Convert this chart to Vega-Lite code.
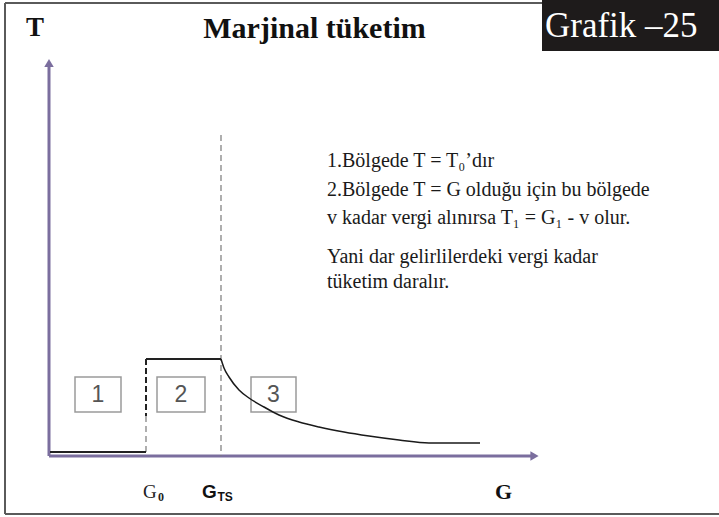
{
  "$schema": "https://vega.github.io/schema/vega-lite/v6.json",
  "width": 719,
  "height": 517,
  "autosize": {"type": "none"},
  "padding": 0,
  "background": "white",
  "config": {"view": {"stroke": null}},
  "datasets": {
    "frame": [
      {"x": -4.4, "y": 45.3, "x2": 67.0, "y2": 45.3},
      {"x": -4.4, "y": 45.3, "x2": -4.4, "y2": -5.8},
      {"x": -4.4, "y": -5.8, "x2": 67.0, "y2": -5.8}
    ],
    "badge": [{"x": 49.3, "y": 40.5, "x2": 67.0, "y2": 45.6}],
    "axes": [
      {"x": 0, "y": 0, "x2": 48.2, "y2": 0},
      {"x": 0, "y": 0, "x2": 0, "y2": 38.9}
    ],
    "arrowUp": [{"x": 0, "y": 39.3}],
    "arrowRight": [{"x": 48.55, "y": 0}],
    "regions": [
      {"x": 2.6, "y": 7.9, "x2": 7.2, "y2": 4.4, "label": "1", "lx": 4.9},
      {"x": 10.8, "y": 7.9, "x2": 15.6, "y2": 4.4, "label": "2", "lx": 13.2},
      {"x": 20.2, "y": 7.9, "x2": 24.7, "y2": 4.4, "label": "3", "lx": 22.45}
    ],
    "solid": [
      {"x": 0.1, "y": 0.4, "x2": 9.7, "y2": 0.4},
      {"x": 9.7, "y": 9.7, "x2": 17.2, "y2": 9.7}
    ],
    "dashDark": [{"x": 9.7, "y": 9.7, "x2": 9.7, "y2": 4.0}],
    "dashLight": [
      {"x": 9.7, "y": 4.0, "x2": 9.7, "y2": 0.4},
      {"x": 17.2, "y": 32.1, "x2": 17.2, "y2": 0.0}
    ],
    "curve": [
      {"x": 17.2, "y": 9.7},
      {"x": 17.5, "y": 8.8},
      {"x": 18.0, "y": 7.9},
      {"x": 19.0, "y": 6.6},
      {"x": 20.0, "y": 5.8},
      {"x": 21.5, "y": 4.9},
      {"x": 23.0, "y": 4.1},
      {"x": 25.0, "y": 3.4},
      {"x": 27.0, "y": 2.9},
      {"x": 29.5, "y": 2.4},
      {"x": 32.0, "y": 2.0},
      {"x": 35.0, "y": 1.6},
      {"x": 38.0, "y": 1.3},
      {"x": 43.1, "y": 1.3}
    ],
    "title": [{"x": 26.55, "y": 41.8, "text": "Marjinal tüketim"}],
    "tLabel": [{"x": -1.4, "y": 42.0, "text": "T"}],
    "badgeText": [{"x": 49.6, "y": 41.9, "text": "Grafik –25"}],
    "gSerif": [{"x": 9.4, "y": -4.2, "text": "G"}],
    "gSerifSub": [{"x": 10.9, "y": -4.5, "text": "0"}],
    "gSans": [{"x": 15.3, "y": -4.2, "text": "G"}],
    "gSansSub": [{"x": 16.85, "y": -4.5, "text": "TS"}],
    "gAxis": [{"x": 44.6, "y": -4.3, "text": "G"}],
    "notes": [
      {"x": 27.8, "y": 28.9, "text": "1.Bölgede T = T₀’dır"},
      {"x": 27.8, "y": 26.0, "text": "2.Bölgede T = G olduğu için bu bölgede"},
      {"x": 27.8, "y": 23.2, "text": "v kadar vergi alınırsa T₁ = G₁ - v olur."},
      {"x": 27.8, "y": 19.3, "text": "Yani dar gelirlilerdeki vergi kadar"},
      {"x": 27.8, "y": 16.8, "text": "tüketim daralır."}
    ]
  },
  "encoding": {
    "x": {"field": "x", "type": "quantitative", "axis": null, "scale": {"domain": [-4.9, 67.0], "nice": false, "zero": false}},
    "y": {"field": "y", "type": "quantitative", "axis": null, "scale": {"domain": [-6.1, 45.6], "nice": false, "zero": false}}
  },
  "layer": [
    {
      "data": {"name": "frame"},
      "mark": {"type": "rule", "color": "#5a5a5a", "strokeWidth": 2},
      "encoding": {"x2": {"field": "x2"}, "y2": {"field": "y2"}}
    },
    {
      "data": {"name": "badge"},
      "mark": {"type": "rect", "color": "#1e1b1b"},
      "encoding": {"x2": {"field": "x2"}, "y2": {"field": "y2"}}
    },
    {
      "data": {"name": "axes"},
      "mark": {"type": "rule", "color": "#7b6e9e", "strokeWidth": 3},
      "encoding": {"x2": {"field": "x2"}, "y2": {"field": "y2"}}
    },
    {
      "data": {"name": "arrowUp"},
      "mark": {"type": "point", "shape": "triangle-up", "filled": true, "color": "#7b6e9e", "size": 90, "opacity": 1}
    },
    {
      "data": {"name": "arrowRight"},
      "mark": {"type": "point", "shape": "triangle-right", "filled": true, "color": "#7b6e9e", "size": 90, "opacity": 1}
    },
    {
      "data": {"name": "regions"},
      "mark": {"type": "rect", "fill": "white", "stroke": "#9a9a9a", "strokeWidth": 1.5},
      "encoding": {"x2": {"field": "x2"}, "y2": {"field": "y2"}}
    },
    {
      "data": {"name": "regions"},
      "mark": {"type": "text", "font": "Liberation Sans", "fontSize": 23, "color": "#555555", "align": "center", "baseline": "middle"},
      "encoding": {"x": {"field": "lx", "type": "quantitative"}, "y": {"datum": 6.1, "type": "quantitative"}, "text": {"field": "label"}}
    },
    {
      "data": {"name": "dashLight"},
      "mark": {"type": "rule", "color": "#7a7a7a", "strokeWidth": 1.2, "strokeDash": [6, 4]},
      "encoding": {"x2": {"field": "x2"}, "y2": {"field": "y2"}}
    },
    {
      "data": {"name": "dashDark"},
      "mark": {"type": "rule", "color": "#222222", "strokeWidth": 2, "strokeDash": [6, 3]},
      "encoding": {"x2": {"field": "x2"}, "y2": {"field": "y2"}}
    },
    {
      "data": {"name": "solid"},
      "mark": {"type": "rule", "color": "#222222", "strokeWidth": 2},
      "encoding": {"x2": {"field": "x2"}, "y2": {"field": "y2"}}
    },
    {
      "data": {"name": "curve"},
      "mark": {"type": "line", "color": "#1a1a1a", "strokeWidth": 1.5, "interpolate": "monotone"}
    },
    {
      "data": {"name": "title"},
      "mark": {"type": "text", "font": "Liberation Serif", "fontSize": 30, "fontWeight": "bold", "color": "#111111", "align": "center", "baseline": "alphabetic"},
      "encoding": {"text": {"field": "text"}}
    },
    {
      "data": {"name": "tLabel"},
      "mark": {"type": "text", "font": "Liberation Serif", "fontSize": 27, "fontWeight": "bold", "color": "#111111", "align": "center", "baseline": "alphabetic"},
      "encoding": {"text": {"field": "text"}}
    },
    {
      "data": {"name": "badgeText"},
      "mark": {"type": "text", "font": "Liberation Serif", "fontSize": 35, "color": "white", "align": "left", "baseline": "alphabetic"},
      "encoding": {"text": {"field": "text"}}
    },
    {
      "data": {"name": "gSerif"},
      "mark": {"type": "text", "font": "Liberation Serif", "fontSize": 19, "color": "#222222", "align": "left", "baseline": "alphabetic"},
      "encoding": {"text": {"field": "text"}}
    },
    {
      "data": {"name": "gSerifSub"},
      "mark": {"type": "text", "font": "Liberation Serif", "fontSize": 12, "fontWeight": "bold", "color": "#222222", "align": "left", "baseline": "alphabetic"},
      "encoding": {"text": {"field": "text"}}
    },
    {
      "data": {"name": "gSans"},
      "mark": {"type": "text", "font": "Liberation Sans", "fontSize": 19, "fontWeight": "bold", "color": "#111111", "align": "left", "baseline": "alphabetic"},
      "encoding": {"text": {"field": "text"}}
    },
    {
      "data": {"name": "gSansSub"},
      "mark": {"type": "text", "font": "Liberation Sans", "fontSize": 12, "fontWeight": "bold", "color": "#111111", "align": "left", "baseline": "alphabetic"},
      "encoding": {"text": {"field": "text"}}
    },
    {
      "data": {"name": "gAxis"},
      "mark": {"type": "text", "font": "Liberation Serif", "fontSize": 22, "fontWeight": "bold", "color": "#111111", "align": "left", "baseline": "alphabetic"},
      "encoding": {"text": {"field": "text"}}
    },
    {
      "data": {"name": "notes"},
      "mark": {"type": "text", "font": "Liberation Serif", "fontSize": 20, "color": "#1a1a1a", "align": "left", "baseline": "alphabetic"},
      "encoding": {"text": {"field": "text"}}
    }
  ]
}
